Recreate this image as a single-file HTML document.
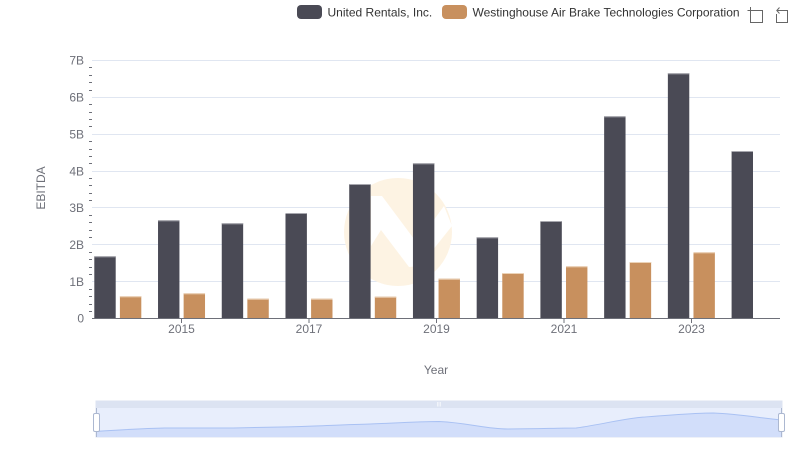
<!DOCTYPE html>
<html><head><meta charset="utf-8"><style>
html,body{margin:0;padding:0;background:#fff;}
svg{display:block;font-family:"Liberation Sans",Arial,sans-serif;}
</style></head><body>
<svg width="800" height="461" viewBox="0 0 800 461" xmlns="http://www.w3.org/2000/svg">
<rect width="800" height="461" fill="#fff"/>
<!-- legend -->
<rect x="297" y="5" width="25" height="14" rx="4" fill="#4a4a55"/>
<text x="327.5" y="16.5" font-size="12" fill="#333">United Rentals, Inc.</text>
<rect x="442" y="5" width="25" height="14" rx="4" fill="#c8905e"/>
<text x="472.5" y="16.5" font-size="12" fill="#333">Westinghouse Air Brake Technologies Corporation</text>
<!-- toolbox -->
<g fill="none" stroke="#666" stroke-width="1">
<path d="M750.5 10.5 H762.5 V22.5 H750.5 Z M750.5 7 V14 M747.5 10.5 H754"/>
<path d="M776.5 10.5 H787.5 V22.5 H776.5 V14 M777 10.5 H783 M779.5 7.5 L776.8 10.5 L779.5 13.5"/>
</g>
<!-- gridlines -->
<g stroke="#e0e6f1" stroke-width="1">
<line x1="92" x2="780" y1="60.5" y2="60.5"/>
<line x1="92" x2="780" y1="97.5" y2="97.5"/>
<line x1="92" x2="780" y1="134.5" y2="134.5"/>
<line x1="92" x2="780" y1="171.5" y2="171.5"/>
<line x1="92" x2="780" y1="207.5" y2="207.5"/>
<line x1="92" x2="780" y1="244.5" y2="244.5"/>
<line x1="92" x2="780" y1="281.5" y2="281.5"/>
</g>
<!-- watermark -->
<circle cx="398" cy="232" r="54" fill="#fdf3e3"/>
<polygon points="371,196 382,196 417,243 444,206 452,226 420,266 409,267 381,230 371,246" fill="#fff"/>
<!-- minor ticks -->
<g stroke="#6e7079" stroke-width="1" id="mt"></g>
<!-- y labels -->
<g font-size="12" fill="#6e7079" text-anchor="end">
<text x="84" y="64.5">7B</text>
<text x="84" y="101.5">6B</text>
<text x="84" y="138.5">5B</text>
<text x="84" y="175.5">4B</text>
<text x="84" y="212">3B</text>
<text x="84" y="249">2B</text>
<text x="84" y="286">1B</text>
<text x="84" y="322.5">0</text>
</g>
<text x="45" y="188" font-size="12" fill="#6e7079" text-anchor="middle" transform="rotate(-90 45 188)">EBITDA</text>
<!-- bars -->
<g id="bars"></g>
<!-- x axis -->
<line x1="92" x2="780" y1="318.5" y2="318.5" stroke="#6e7079" stroke-width="1"/>
<g stroke="#6e7079" stroke-width="1">
<line x1="181.5" x2="181.5" y1="318" y2="323"/>
<line x1="309" x2="309" y1="318" y2="323"/>
<line x1="436.5" x2="436.5" y1="318" y2="323"/>
<line x1="564" x2="564" y1="318" y2="323"/>
<line x1="691.5" x2="691.5" y1="318" y2="323"/>
</g>
<g font-size="12" fill="#6e7079" text-anchor="middle">
<text x="181.5" y="333">2015</text>
<text x="309" y="333">2017</text>
<text x="436.5" y="333">2019</text>
<text x="564" y="333">2021</text>
<text x="691.5" y="333">2023</text>
</g>
<text x="436" y="374" font-size="12" fill="#6e7079" text-anchor="middle">Year</text>
<!-- data zoom -->
<rect x="96" y="401" width="686" height="36" fill="#e8eefc" stroke="#dce3f2" stroke-width="1"/>
<rect x="96" y="401" width="686" height="7" fill="#dce3f2"/>
<path d="M96,431.4 C120,430 140,428.5 164.6,428 C190,428 210,428 233.2,428 C260,427.5 280,427 301.8,426.5 C330,425.5 350,424.5 370.4,424 C395,423 420,421.5 439,421.5 C470,423 485,429 507.6,429 C540,429 555,428 576.2,428 C605,424 625,418 644.8,417 C670,415 695,413 713.4,413 C740,414 760,418 782,420 L782,437 L96,437 Z" fill="#d2defa"/>
<path d="M96,431.4 C120,430 140,428.5 164.6,428 C190,428 210,428 233.2,428 C260,427.5 280,427 301.8,426.5 C330,425.5 350,424.5 370.4,424 C395,423 420,421.5 439,421.5 C470,423 485,429 507.6,429 C540,429 555,428 576.2,428 C605,424 625,418 644.8,417 C670,415 695,413 713.4,413 C740,414 760,418 782,420" fill="none" stroke="#a9c1f3" stroke-width="1"/>
<g fill="#fff" stroke="#c2c8d6" stroke-width="1">
<text x="439" y="406.5" font-size="6" fill="#fff" stroke="none" text-anchor="middle">III</text>
</g>
<g stroke="#acb8d1" stroke-width="1">
<line x1="96.5" x2="96.5" y1="408" y2="437"/>
<line x1="781.5" x2="781.5" y1="408" y2="437"/>
</g>
<rect x="93.5" y="413.5" width="6" height="18" rx="1.5" fill="#fff" stroke="#acb8d1"/>
<rect x="778.5" y="413.5" width="6" height="18" rx="1.5" fill="#fff" stroke="#acb8d1"/>
<script>
(function(){
  var ns="http://www.w3.org/2000/svg";
  var mt=document.getElementById("mt");
  var y0=318.3, u=36.9;
  for(var k=0;k<35;k++){ if(k%5===0) continue;
    var y=Math.round(y0-k*u/5)+0.5;
    var l=document.createElementNS(ns,"line");
    l.setAttribute("x1","89");l.setAttribute("x2","92");
    l.setAttribute("y1",y);l.setAttribute("y2",y);
    mt.appendChild(l);
  }
  var dark=[256.3,220.3,223.3,213,184,163.3,237.3,221,116.3,73.3,151];
  var org=[296.3,293.3,298.7,298.7,296.7,278.7,273,266.3,262,252.3,null];
  var g=document.getElementById("bars");
  function bar(x,top,fill,edge){
    var r=document.createElementNS(ns,"rect");
    r.setAttribute("x",x);r.setAttribute("y",top);
    r.setAttribute("width",21.4);r.setAttribute("height",318.3-top);
    r.setAttribute("fill",fill);g.appendChild(r);
    var l=document.createElementNS(ns,"rect");
    l.setAttribute("x",x);l.setAttribute("y",top);
    l.setAttribute("width",21.4);l.setAttribute("height",1);
    l.setAttribute("fill",edge);g.appendChild(l);
  }
  for(var i=0;i<11;i++){
    var c=117.8+63.73*i;
    bar(c-23.5,dark[i],"#4a4a55","#a7a7ae");
    if(org[i]!==null) bar(c+2.1,org[i],"#c8905e","#ecd3b8");
  }
})();
</script>
</svg>
</body></html>
